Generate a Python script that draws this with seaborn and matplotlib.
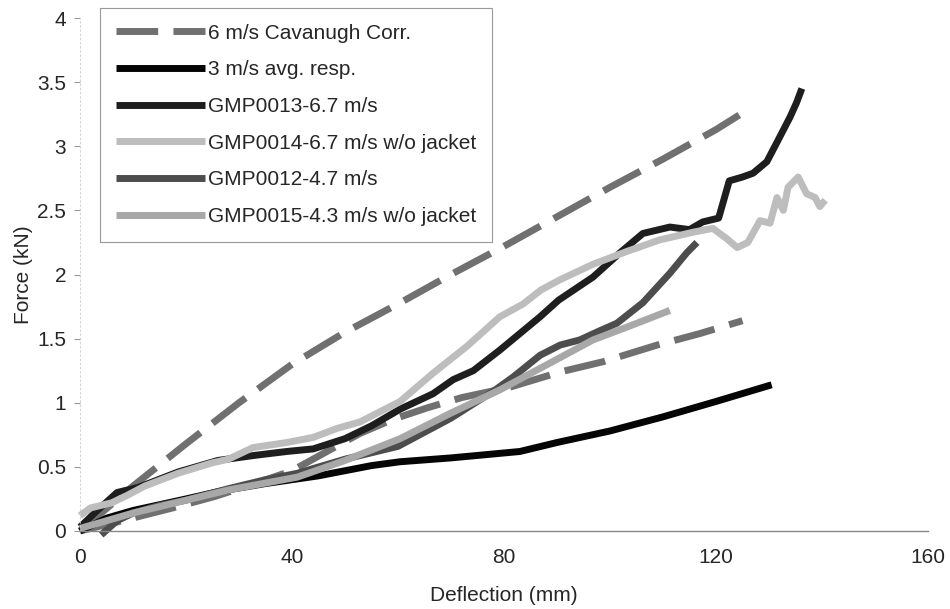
import matplotlib
matplotlib.use("Agg")
import matplotlib.pyplot as plt
import seaborn as sns

# values (deflection in mm, force in kN)
cav_upper_x = [0, 10, 20, 30, 40, 50, 60, 70, 80, 90, 100, 110, 120, 125.8]
cav_upper_y = [0, 0.35, 0.68, 1.0, 1.3, 1.55, 1.77, 2.0, 2.22, 2.45, 2.68, 2.9, 3.13, 3.28]

cav_lower_x = [0, 7, 17.5, 25.5, 33, 40, 46.6, 52.8, 59, 65.5, 72, 81, 90.6, 98.7, 108.9, 117, 125]
cav_lower_y = [0, 0.07, 0.18, 0.27, 0.37, 0.47, 0.62, 0.76, 0.87, 0.96, 1.04, 1.12, 1.24, 1.32, 1.45, 1.54, 1.64]

avg3_x = [0, 5, 10, 20, 26.4, 35, 45, 55, 60.4, 70, 83, 90, 100, 110, 120, 130.5]
avg3_y = [0, 0.1, 0.16, 0.25, 0.31, 0.37, 0.43, 0.51, 0.54, 0.57, 0.62, 0.69, 0.78, 0.89, 1.01, 1.14]

gmp13_x = [0, 3, 7, 11, 18.5, 26, 33, 39, 44, 50, 55, 60.4, 66.6, 70.4, 74.2, 79.2, 83, 86.8,
           90.3, 96.8, 101.9, 106.2, 111.3, 115, 117.5, 120.5, 122.5, 125, 127, 129.6, 132, 134,
           135.2, 136.2]
gmp13_y = [0.03, 0.15, 0.3, 0.34, 0.46, 0.55, 0.59, 0.62, 0.64, 0.72, 0.82, 0.95, 1.07, 1.18,
           1.25, 1.41, 1.54, 1.67, 1.8, 1.98, 2.17, 2.32, 2.37, 2.35, 2.41, 2.44, 2.73, 2.76, 2.79,
           2.88, 3.07, 3.23, 3.34, 3.45]

gmp14_x = [0, 2, 6, 9, 12.2, 18.5, 24.8, 28, 32.6, 39, 44, 48.5, 52.8, 56.6, 60.4, 66.6, 73,
           79.2, 83.6, 87, 90.6, 96.8, 103.2, 109.4, 115.7, 119.4, 122, 124, 126, 128.3, 130.2,
           131.5, 132.7, 133.6, 135.5, 137.1, 138.7, 139.6, 140.6]
gmp14_y = [0.12, 0.18, 0.22, 0.28, 0.35, 0.45, 0.53, 0.56, 0.65, 0.69, 0.73, 0.8, 0.85, 0.93,
           1.01, 1.23, 1.44, 1.67, 1.77, 1.88, 1.96, 2.08, 2.18, 2.27, 2.33, 2.36, 2.28, 2.21,
           2.25, 2.42, 2.4, 2.6, 2.5, 2.68, 2.76, 2.63, 2.6, 2.53, 2.58]

gmp12_x = [4, 7, 10, 15, 20, 28, 35, 41, 50, 60, 70, 78, 81.7, 86.8, 90.6, 94.3, 98, 101.3,
           106.2, 111.3, 114.5, 116.4]
gmp12_y = [-0.03, 0.08, 0.14, 0.2, 0.24, 0.33, 0.4, 0.45, 0.56, 0.66, 0.88, 1.09, 1.2, 1.37,
           1.45, 1.49, 1.56, 1.62, 1.78, 2.01, 2.17, 2.25]

gmp15_x = [0, 5, 10, 20, 28, 41, 50, 60.4, 70, 79.2, 88.7, 96.8, 103.2, 111.3]
gmp15_y = [0.02, 0.08, 0.14, 0.24, 0.32, 0.42, 0.55, 0.72, 0.92, 1.1, 1.31, 1.49, 1.59, 1.72]

x_ticks = [0, 40, 80, 120, 160]
y_ticks = [0, 0.5, 1, 1.5, 2, 2.5, 3, 3.5, 4]
y_tick_labels = ["0", "0.5", "1", "1.5", "2", "2.5", "3", "3.5", "4"]

sns.set_style("white")
plt.rcParams['font.family'] = ['Liberation Sans', 'DejaVu Sans']

fig = plt.figure(figsize=(9.5, 6.09), dpi=100)
ax = fig.add_axes([80 / 950, 78 / 609, 848 / 950, 513 / 609])

lw = 5
dash = (0, (6, 2.2))
series = [
    (cav_upper_x, cav_upper_y, "6 m/s Cavanugh Corr.", "#707070", dash),
    (cav_lower_x, cav_lower_y, None, "#707070", dash),
    (avg3_x, avg3_y, "3 m/s avg. resp.", "#050505", "-"),
    (gmp13_x, gmp13_y, "GMP0013-6.7 m/s", "#1e1e1e", "-"),
    (gmp14_x, gmp14_y, "GMP0014-6.7 m/s w/o jacket", "#bdbdbd", "-"),
    (gmp12_x, gmp12_y, "GMP0012-4.7 m/s", "#4d4d4d", "-"),
    (gmp15_x, gmp15_y, "GMP0015-4.3 m/s w/o jacket", "#a8a8a8", "-"),
]
for xs, ys, name, color, ls in series:
    sns.lineplot(x=xs, y=ys, ax=ax, sort=False, estimator=None, color=color,
                 linewidth=lw, linestyle=ls, label=name, clip_on=False,
                 solid_capstyle="butt", dash_capstyle="butt")

ax.set_xlim(0, 160)
ax.set_ylim(0, 4)
ax.set_xticks(x_ticks)
ax.set_yticks(y_ticks)
ax.set_yticklabels(y_tick_labels)
ax.tick_params(axis="x", length=0, pad=12, labelsize=15)
ax.tick_params(axis="y", length=4, width=0.8, color="#999999", pad=6, labelsize=15, left=True)

for side in ["top", "right"]:
    ax.spines[side].set_visible(False)
ax.spines["bottom"].set_color("#888888")
ax.spines["bottom"].set_linewidth(1.0)
ax.spines["left"].set_color("#cccccc")
ax.spines["left"].set_linewidth(0.6)
ax.spines["left"].set_linestyle((0, (2, 3)))

ax.set_xlabel("Deflection (mm)", fontsize=15, labelpad=14)
ax.set_ylabel("Force (kN)", fontsize=15, labelpad=3)

handles, labels = ax.get_legend_handles_labels()
leg = ax.legend(handles, labels, loc="upper left", bbox_to_anchor=(100 / 950, 1 - 8 / 609),
                bbox_transform=fig.transFigure, fontsize=15, frameon=True, fancybox=False,
                handlelength=4.3, handletextpad=0.15, labelspacing=0.85, borderpad=0.75,
                borderaxespad=0, framealpha=1)
leg.get_frame().set_edgecolor("#999999")
leg.get_frame().set_linewidth(0.8)

fig.savefig("out.png", dpi=100)
